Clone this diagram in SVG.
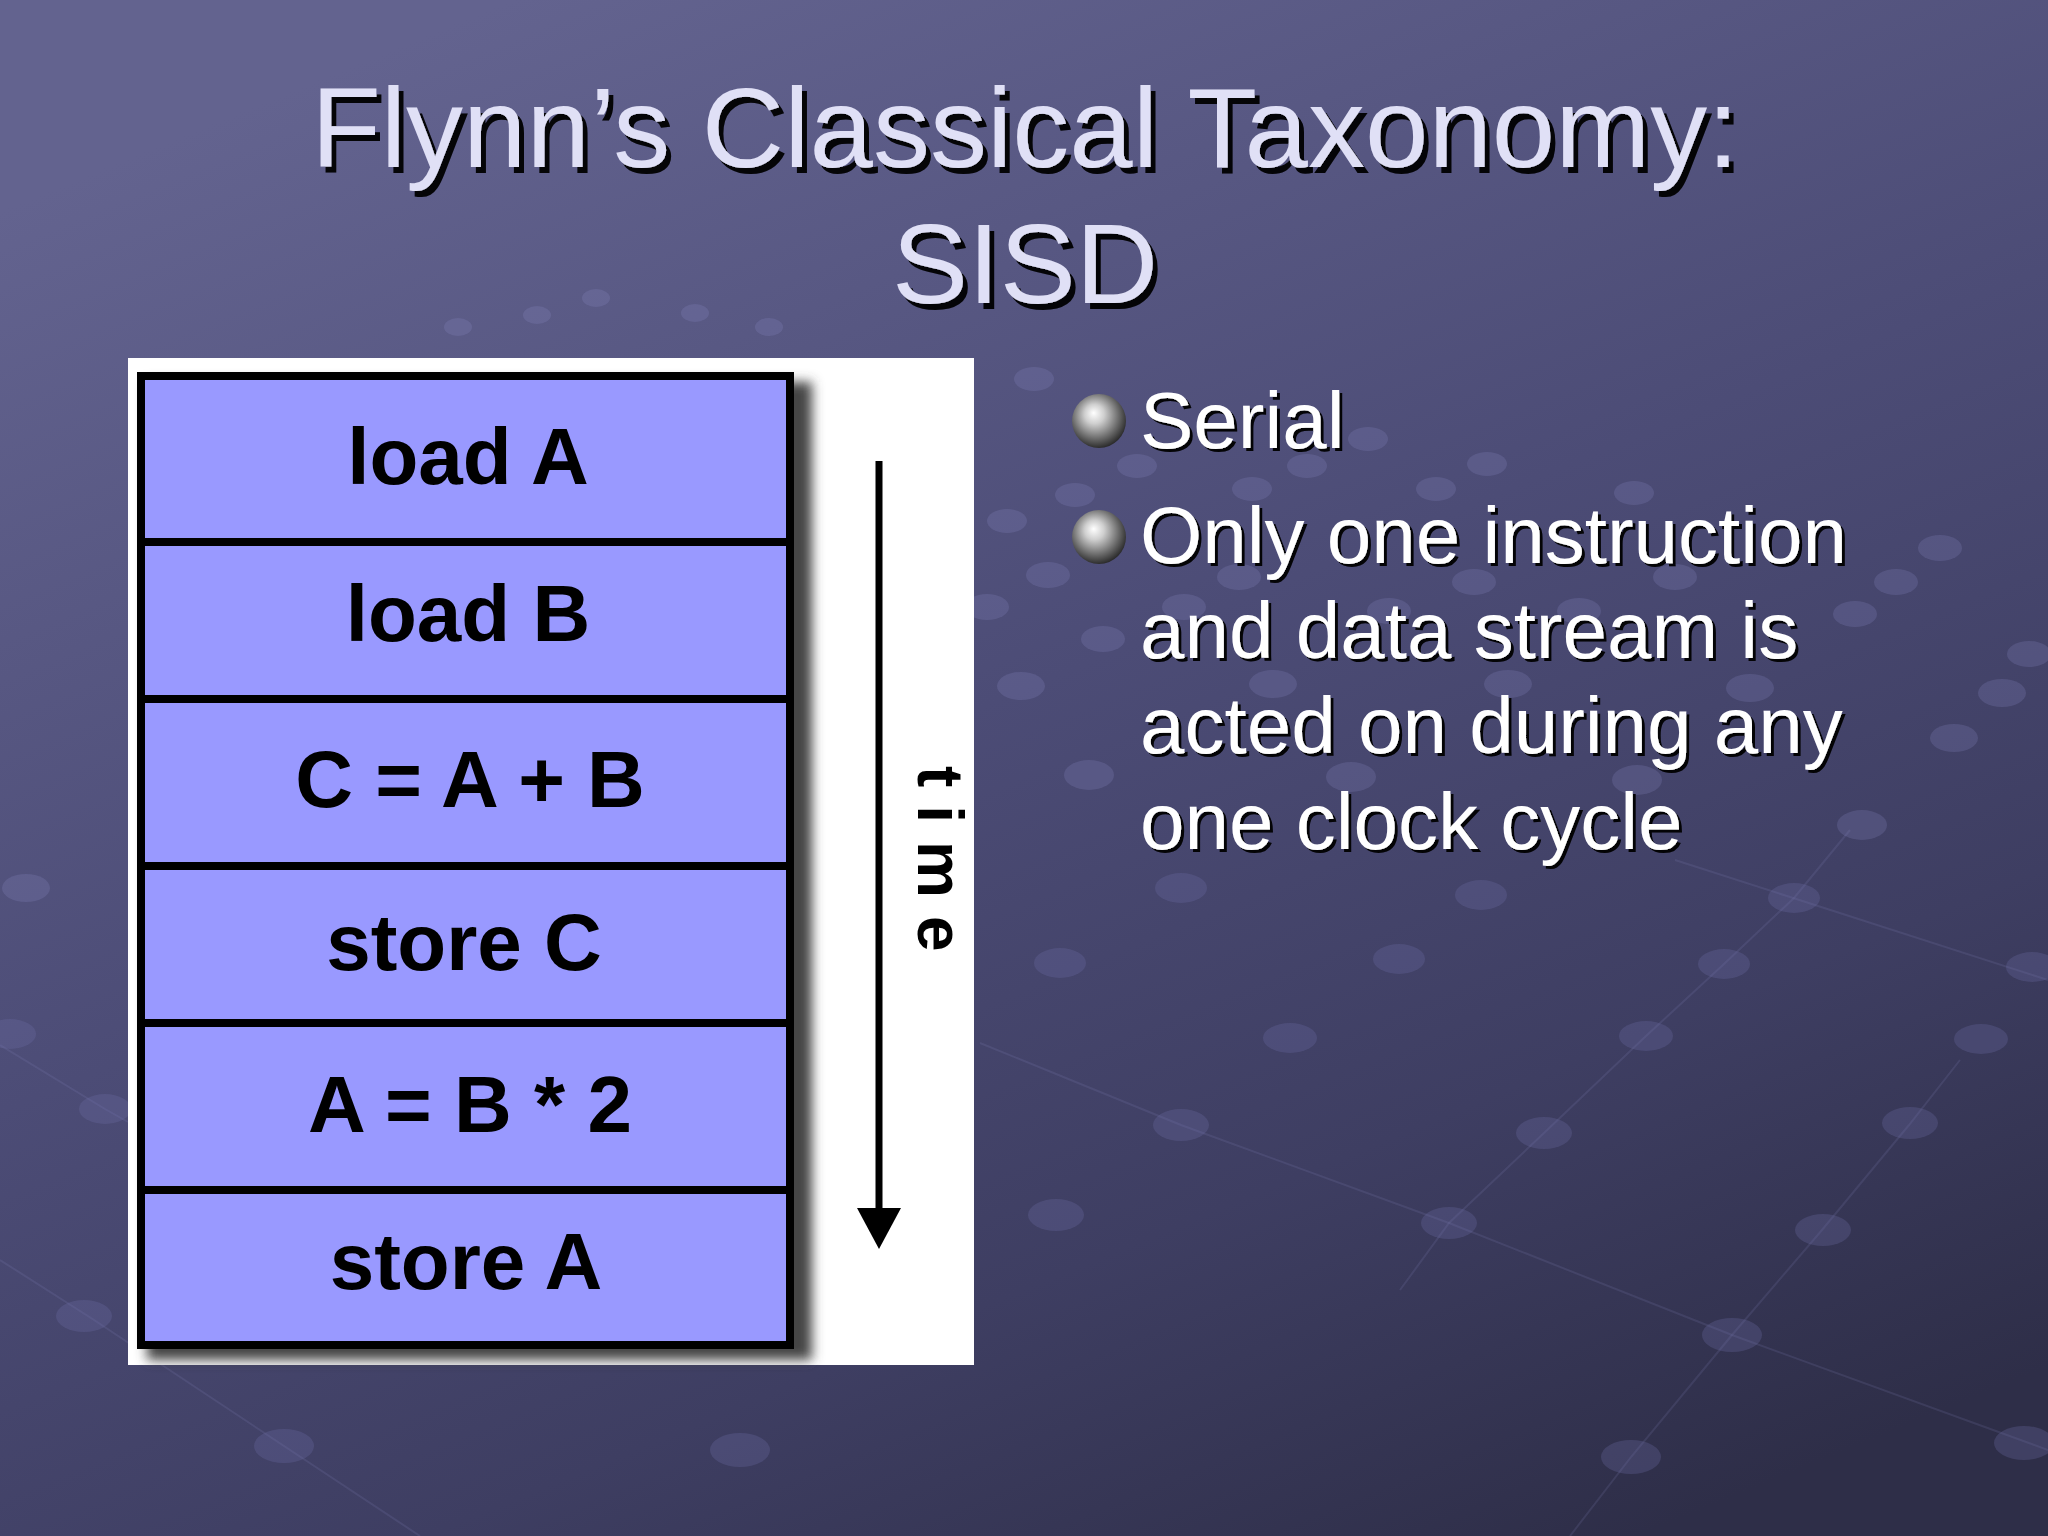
<svg xmlns="http://www.w3.org/2000/svg" width="2048" height="1536" viewBox="0 0 2048 1536">
  <defs>
    <linearGradient id="bg" x1="0.25" y1="0" x2="0.8" y2="1">
      <stop offset="0" stop-color="#63638f"/>
      <stop offset="0.45" stop-color="#4c4c76"/>
      <stop offset="0.75" stop-color="#3e3e62"/>
      <stop offset="1" stop-color="#2e2e48"/>
    </linearGradient>
    <radialGradient id="sphere" cx="0.45" cy="0.42" r="0.6" fx="0.4" fy="0.35">
      <stop offset="0" stop-color="#ffffff"/>
      <stop offset="0.3" stop-color="#cfcfcf"/>
      <stop offset="0.7" stop-color="#6e6e6e"/>
      <stop offset="1" stop-color="#262626"/>
    </radialGradient>
    <filter id="boxShadow" x="-10%" y="-10%" width="130%" height="130%">
      <feGaussianBlur stdDeviation="6"/>
    </filter>
    <filter id="titleShadow" x="-5%" y="-20%" width="110%" height="150%">
      <feDropShadow dx="5" dy="6" stdDeviation="0.5" flood-color="#000000" flood-opacity="0.95"/>
    </filter>
    <filter id="textShadow" x="-5%" y="-20%" width="110%" height="150%">
      <feDropShadow dx="3" dy="3" stdDeviation="0.5" flood-color="#000000" flood-opacity="0.95"/>
    </filter>
    <style>
      .title { font-family: "Liberation Sans", Arial, sans-serif; font-size: 114px; fill: #e0e0f6; text-anchor: middle; }
      .body { font-family: "Liberation Sans", Arial, sans-serif; font-size: 80px; fill: #ffffff; }
      .row rect { fill: #9999ff; stroke: #000000; stroke-width: 8; }
      .row text { font-family: "Liberation Sans", Arial, sans-serif; font-size: 80px; font-weight: bold; fill: #000000; text-anchor: middle; }
      .time { font-family: "Liberation Sans", Arial, sans-serif; font-size: 64px; font-weight: bold; fill: #000000; letter-spacing: 18px; }
      .dotU { fill: #8c8cc8; fill-opacity: 0.22; }
      .dotL { fill: #7070a8; fill-opacity: 0.28; }
      .net { stroke: #8a8ac0; stroke-opacity: 0.16; stroke-width: 2; fill: none; }
    </style>
  </defs>

  <!-- background -->
  <rect x="0" y="0" width="2048" height="1536" fill="url(#bg)"/>
  <g id="background-pattern">
    <path class="net" d="M1400,1290 L1449,1223 L1544,1133 L1646,1036 L1724,964 L1794,898 L1850,830"/>
    <path class="net" d="M1570,1536 L1631,1457 L1732,1335 L1822,1230 L1909,1125 L1960,1060"/>
    <path class="net" d="M980,1043 L1181,1125 L1449,1223 L1732,1335 L2048,1450"/>
    <path class="net" d="M0,1260 L91,1318 L168,1369 L284,1446 L420,1536"/>
    <path class="net" d="M0,1045 L105,1109 L128,1122"/>
    <path class="net" d="M1675,860 L2048,980"/>
    <ellipse class="dotU" cx="1034" cy="379" rx="20" ry="12"/>
    <ellipse class="dotU" cx="1368" cy="439" rx="20" ry="12"/>
    <ellipse class="dotU" cx="1137" cy="466" rx="20" ry="12"/>
    <ellipse class="dotU" cx="1307" cy="466" rx="20" ry="12"/>
    <ellipse class="dotU" cx="1487" cy="464" rx="20" ry="12"/>
    <ellipse class="dotU" cx="1075" cy="495" rx="20" ry="12"/>
    <ellipse class="dotU" cx="1252" cy="489" rx="20" ry="12"/>
    <ellipse class="dotU" cx="1436" cy="489" rx="20" ry="12"/>
    <ellipse class="dotU" cx="1634" cy="493" rx="20" ry="12"/>
    <ellipse class="dotU" cx="1007" cy="521" rx="20" ry="12"/>
    <ellipse class="dotU" cx="1940" cy="548" rx="22" ry="13"/>
    <ellipse class="dotU" cx="1048" cy="575" rx="22" ry="13"/>
    <ellipse class="dotU" cx="1239" cy="577" rx="22" ry="13"/>
    <ellipse class="dotU" cx="1474" cy="582" rx="22" ry="13"/>
    <ellipse class="dotU" cx="1675" cy="577" rx="22" ry="13"/>
    <ellipse class="dotU" cx="1896" cy="582" rx="22" ry="13"/>
    <ellipse class="dotU" cx="987" cy="607" rx="22" ry="13"/>
    <ellipse class="dotU" cx="1184" cy="607" rx="22" ry="13"/>
    <ellipse class="dotU" cx="1389" cy="611" rx="22" ry="13"/>
    <ellipse class="dotU" cx="1579" cy="611" rx="22" ry="13"/>
    <ellipse class="dotU" cx="1855" cy="614" rx="22" ry="13"/>
    <ellipse class="dotU" cx="1103" cy="639" rx="22" ry="13"/>
    <ellipse class="dotU" cx="2029" cy="654" rx="22" ry="13"/>
    <ellipse class="dotU" cx="1021" cy="686" rx="24" ry="14"/>
    <ellipse class="dotU" cx="1273" cy="684" rx="24" ry="14"/>
    <ellipse class="dotU" cx="1508" cy="684" rx="24" ry="14"/>
    <ellipse class="dotU" cx="1750" cy="688" rx="24" ry="14"/>
    <ellipse class="dotU" cx="2002" cy="693" rx="24" ry="14"/>
    <ellipse class="dotU" cx="1954" cy="738" rx="24" ry="14"/>
    <ellipse class="dotU" cx="1089" cy="775" rx="25" ry="15"/>
    <ellipse class="dotU" cx="1351" cy="777" rx="25" ry="15"/>
    <ellipse class="dotU" cx="1637" cy="780" rx="25" ry="15"/>
    <ellipse class="dotU" cx="1862" cy="825" rx="25" ry="15"/>
    <ellipse class="dotL" cx="1181" cy="888" rx="26" ry="15"/>
    <ellipse class="dotL" cx="1481" cy="895" rx="26" ry="15"/>
    <ellipse class="dotL" cx="1794" cy="898" rx="26" ry="15"/>
    <ellipse class="dotL" cx="1060" cy="963" rx="26" ry="15"/>
    <ellipse class="dotL" cx="1399" cy="959" rx="26" ry="15"/>
    <ellipse class="dotL" cx="1724" cy="964" rx="26" ry="15"/>
    <ellipse class="dotL" cx="2032" cy="967" rx="26" ry="15"/>
    <ellipse class="dotL" cx="1290" cy="1038" rx="27" ry="15"/>
    <ellipse class="dotL" cx="1646" cy="1036" rx="27" ry="15"/>
    <ellipse class="dotL" cx="1981" cy="1039" rx="27" ry="15"/>
    <ellipse class="dotL" cx="1181" cy="1125" rx="28" ry="16"/>
    <ellipse class="dotL" cx="1544" cy="1133" rx="28" ry="16"/>
    <ellipse class="dotL" cx="1910" cy="1123" rx="28" ry="16"/>
    <ellipse class="dotL" cx="1056" cy="1215" rx="28" ry="16"/>
    <ellipse class="dotL" cx="1449" cy="1223" rx="28" ry="16"/>
    <ellipse class="dotL" cx="1823" cy="1230" rx="28" ry="16"/>
    <ellipse class="dotL" cx="1732" cy="1335" rx="30" ry="17"/>
    <ellipse class="dotL" cx="1631" cy="1457" rx="30" ry="17"/>
    <ellipse class="dotL" cx="2024" cy="1443" rx="30" ry="17"/>
    <ellipse class="dotL" cx="740" cy="1450" rx="30" ry="17"/>
    <ellipse class="dotL" cx="284" cy="1446" rx="30" ry="17"/>
    <ellipse class="dotL" cx="84" cy="1316" rx="28" ry="16"/>
    <ellipse class="dotL" cx="105" cy="1109" rx="26" ry="15"/>
    <ellipse class="dotL" cx="10" cy="1034" rx="26" ry="15"/>
    <ellipse class="dotU" cx="26" cy="888" rx="24" ry="14"/>
    <ellipse class="dotU" cx="596" cy="298" rx="14" ry="9"/>
    <ellipse class="dotU" cx="537" cy="315" rx="14" ry="9"/>
    <ellipse class="dotU" cx="695" cy="313" rx="14" ry="9"/>
    <ellipse class="dotU" cx="769" cy="327" rx="14" ry="9"/>
    <ellipse class="dotU" cx="458" cy="327" rx="14" ry="9"/>
  </g>

  <!-- title -->
  <g id="title" filter="url(#titleShadow)">
    <text class="title" x="1025" y="167">Flynn’s Classical Taxonomy:</text>
    <text class="title" x="1025" y="303">SISD</text>
  </g>

  <!-- white panel -->
  <g id="panel">
    <rect x="128" y="358" width="846" height="1007" fill="#ffffff"/>
    <rect x="147" y="382" width="665" height="978" fill="#444444" filter="url(#boxShadow)"/>
  </g>

  <!-- instruction rows -->
  <g id="row-load-a" class="row">
    <rect x="141" y="376" width="649" height="166"/>
    <text x="468" y="484">load A</text>
  </g>
  <g id="row-load-b" class="row">
    <rect x="141" y="542" width="649" height="157"/>
    <text x="468" y="641">load B</text>
  </g>
  <g id="row-c-add" class="row">
    <rect x="141" y="699" width="649" height="167"/>
    <text x="470" y="807">C = A + B</text>
  </g>
  <g id="row-store-c" class="row">
    <rect x="141" y="866" width="649" height="157"/>
    <text x="464" y="970">store C</text>
  </g>
  <g id="row-a-mul" class="row">
    <rect x="141" y="1023" width="649" height="167"/>
    <text x="470" y="1132">A = B * 2</text>
  </g>
  <g id="row-store-a" class="row">
    <rect x="141" y="1190" width="649" height="155"/>
    <text x="466" y="1289">store A</text>
  </g>

  <!-- time arrow -->
  <g id="connectors">
    <line x1="879" y1="461" x2="879" y2="1212" stroke="#000000" stroke-width="7"/>
    <polygon points="857,1208 901,1208 879,1249" fill="#000000"/>
  </g>
  <g id="time-label">
    <text class="time" transform="translate(918,766) rotate(90)">time</text>
  </g>

  <!-- bullets -->
  <g id="bullet-serial">
    <circle cx="1099" cy="421" r="27" fill="url(#sphere)"/>
    <text class="body" x="1140" y="448" filter="url(#textShadow)">Serial</text>
  </g>
  <g id="bullet-stream">
    <circle cx="1099" cy="537" r="27" fill="url(#sphere)"/>
    <g filter="url(#textShadow)">
      <text class="body" x="1140" y="563">Only one instruction</text>
      <text class="body" x="1140" y="658">and data stream is</text>
      <text class="body" x="1140" y="753">acted on during any</text>
      <text class="body" x="1140" y="849">one clock cycle</text>
    </g>
  </g>
</svg>
